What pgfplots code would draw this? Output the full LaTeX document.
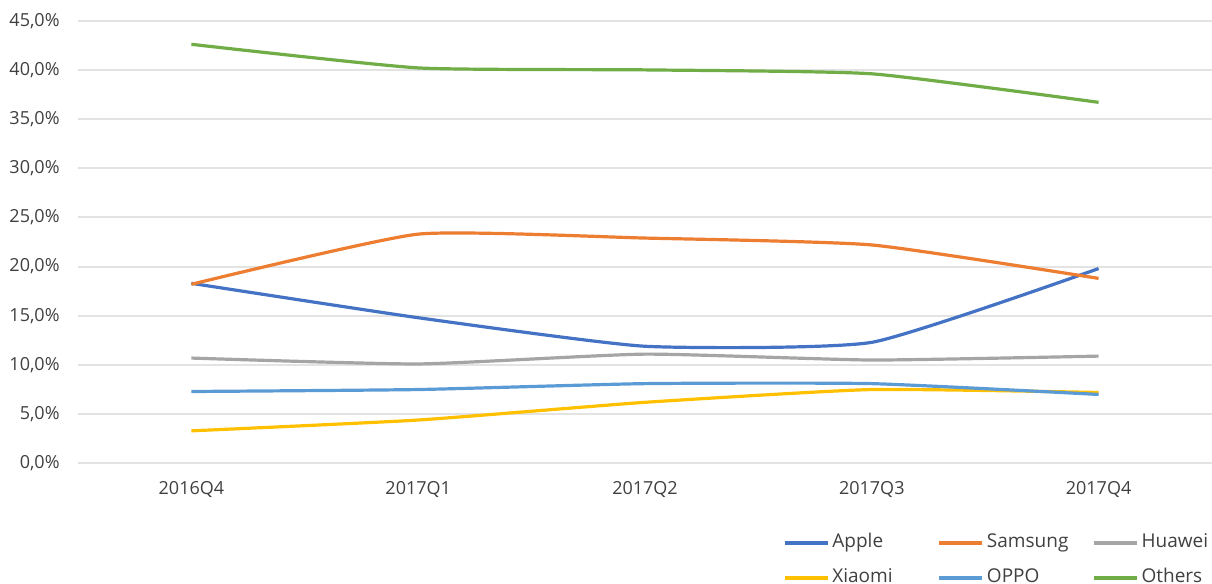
\documentclass[border=0pt]{standalone}
\usepackage{fontspec}
\setmainfont{Open Sans}
\usepackage{pgfplots}
\pgfplotsset{compat=1.18}
\definecolor{cApple}{HTML}{4472C4}
\definecolor{cSamsung}{HTML}{ED7D31}
\definecolor{cHuawei}{HTML}{A5A5A5}
\definecolor{cXiaomi}{HTML}{FFC000}
\definecolor{cOppo}{HTML}{5B9BD5}
\definecolor{cOthers}{HTML}{70AD47}
\definecolor{gridgray}{HTML}{E3E3E3}
\definecolor{labelgray}{HTML}{404040}

\begin{document}
\begin{tikzpicture}
\path[use as bounding box] (-39pt,-60.35pt) rectangle (567pt,231.65pt);
\begin{axis}[
	at={(0,0)}, anchor=south west,
	scale only axis,
	width=567pt, height=221.3pt,
	xmin=-0.5, xmax=4.5,
	ymin=0, ymax=45,
	xtick={0,1,2,3,4},
	xticklabels={2016Q4,2017Q1,2017Q2,2017Q3,2017Q4},
	ytick={0,5,...,45},
	yticklabels={{0,0\%},{5,0\%},{10,0\%},{15,0\%},{20,0\%},{25,0\%},{30,0\%},{35,0\%},{40,0\%},{45,0\%}},
	ymajorgrids,
	major grid style={draw=gridgray, line width=1pt},
	axis line style={draw=none},
	major tick length=0pt,
	tick label style={font=\fontsize{9}{11}\selectfont, text=labelgray},
	yticklabel style={inner sep=0pt, xshift=-9pt},
	xticklabel style={inner sep=0pt, yshift=-9pt},
	clip=false,
	legend columns=3,
	legend cell align=left,
	legend style={draw=none, fill=none, at={(0.6215,-0.1575)}, anchor=north west,
		inner sep=0pt, row sep=8pt,
		font=\fontsize{9.5}{11}\selectfont, text=labelgray,
		nodes={inner sep=0pt, text height=7pt, text depth=2.5pt},
		/tikz/every odd column/.append style={column sep=1.5pt}},
	legend image code/.code={\draw[#1] (0pt,0pt) -- (21.5pt,0pt);},
	every axis plot/.append style={line width=1.6pt, smooth, tension=0.3, no markers},
]
\addplot[cApple] coordinates {(0,18.3) (1,14.8) (2,11.9) (3,12.3) (4,19.8)};
\addlegendentry{\makebox[52.7pt][l]{Apple}}
\addplot[cSamsung] coordinates {(0,18.2) (1,23.3) (2,22.9) (3,22.2) (4,18.8)};
\addlegendentry{\makebox[52.7pt][l]{Samsung}}
\addplot[cHuawei] coordinates {(0,10.7) (1,10.1) (2,11.1) (3,10.5) (4,10.9)};
\addlegendentry{\makebox[52.7pt][l]{Huawei}}
\addplot[cXiaomi] coordinates {(0,3.3) (1,4.4) (2,6.2) (3,7.5) (4,7.2)};
\addlegendentry{\makebox[52.7pt][l]{Xiaomi}}
\addplot[cOppo] coordinates {(0,7.3) (1,7.5) (2,8.1) (3,8.1) (4,7.0)};
\addlegendentry{\makebox[52.7pt][l]{OPPO}}
\addplot[cOthers] coordinates {(0,42.6) (1,40.2) (2,40.0) (3,39.6) (4,36.7)};
\addlegendentry{\makebox[52.7pt][l]{Others}}
\end{axis}
\end{tikzpicture}
\end{document}
